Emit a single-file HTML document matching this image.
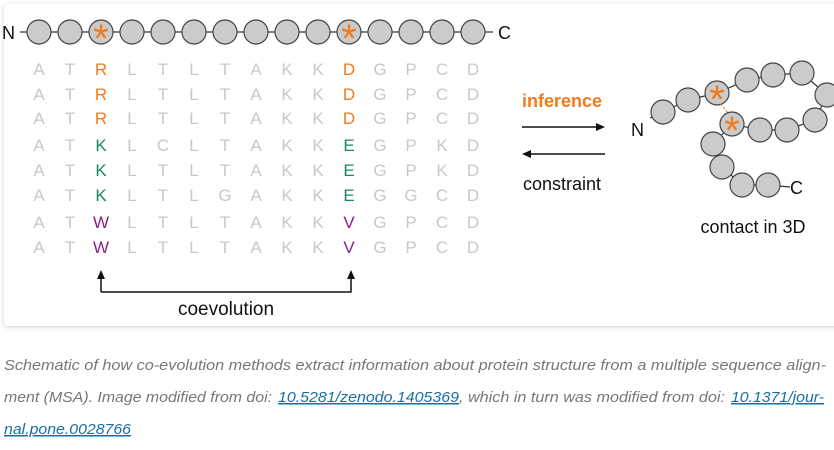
<!DOCTYPE html>
<html><head><meta charset="utf-8"><style>
html,body{margin:0;padding:0;background:#fff;width:834px;height:450px;overflow:hidden}
svg{display:block}
</style></head><body>
<svg width="834" height="450" viewBox="0 0 834 450" xmlns="http://www.w3.org/2000/svg" font-family="Liberation Sans, DejaVu Sans, sans-serif">
<defs><filter id="sh" x="-5%" y="-5%" width="110%" height="120%"><feDropShadow dx="0" dy="1" stdDeviation="2" flood-color="#000" flood-opacity="0.18"/></filter></defs>
<rect x="4" y="4" width="840" height="322" rx="3" fill="#fff" filter="url(#sh)"/>
<!-- top chain -->
<line x1="20" y1="32" x2="493" y2="32" stroke="#333" stroke-width="1.3"/>
<text x="2" y="39" font-size="18" fill="#111">N</text>
<text x="498" y="39" font-size="18" fill="#111">C</text>
<g fill="#cbcbcb" stroke="#444" stroke-width="1.2">
<circle cx="39" cy="32" r="12"/><circle cx="70" cy="32" r="12"/><circle cx="101" cy="32" r="12"/><circle cx="132" cy="32" r="12"/><circle cx="163" cy="32" r="12"/><circle cx="194" cy="32" r="12"/><circle cx="225" cy="32" r="12"/><circle cx="256" cy="32" r="12"/><circle cx="287" cy="32" r="12"/><circle cx="318" cy="32" r="12"/><circle cx="349" cy="32" r="12"/><circle cx="380" cy="32" r="12"/><circle cx="411" cy="32" r="12"/><circle cx="442" cy="32" r="12"/><circle cx="473" cy="32" r="12"/>
</g>
<g fill="#f07b1b" font-size="40" text-anchor="middle"><text x="101" y="52">*</text><text x="349" y="52">*</text></g>
<!-- MSA -->
<g font-size="17" text-anchor="middle" fill="#c8c8c8">
<text y="75"><tspan x="39">A</tspan><tspan x="70">T</tspan><tspan x="132">L</tspan><tspan x="163">T</tspan><tspan x="194">L</tspan><tspan x="225">T</tspan><tspan x="256">A</tspan><tspan x="287">K</tspan><tspan x="318">K</tspan><tspan x="380">G</tspan><tspan x="411">P</tspan><tspan x="442">C</tspan><tspan x="473">D</tspan></text>
<text y="100"><tspan x="39">A</tspan><tspan x="70">T</tspan><tspan x="132">L</tspan><tspan x="163">T</tspan><tspan x="194">L</tspan><tspan x="225">T</tspan><tspan x="256">A</tspan><tspan x="287">K</tspan><tspan x="318">K</tspan><tspan x="380">G</tspan><tspan x="411">P</tspan><tspan x="442">C</tspan><tspan x="473">D</tspan></text>
<text y="124"><tspan x="39">A</tspan><tspan x="70">T</tspan><tspan x="132">L</tspan><tspan x="163">T</tspan><tspan x="194">L</tspan><tspan x="225">T</tspan><tspan x="256">A</tspan><tspan x="287">K</tspan><tspan x="318">K</tspan><tspan x="380">G</tspan><tspan x="411">P</tspan><tspan x="442">C</tspan><tspan x="473">D</tspan></text>
<text y="151"><tspan x="39">A</tspan><tspan x="70">T</tspan><tspan x="132">L</tspan><tspan x="163">C</tspan><tspan x="194">L</tspan><tspan x="225">T</tspan><tspan x="256">A</tspan><tspan x="287">K</tspan><tspan x="318">K</tspan><tspan x="380">G</tspan><tspan x="411">P</tspan><tspan x="442">K</tspan><tspan x="473">D</tspan></text>
<text y="176"><tspan x="39">A</tspan><tspan x="70">T</tspan><tspan x="132">L</tspan><tspan x="163">T</tspan><tspan x="194">L</tspan><tspan x="225">T</tspan><tspan x="256">A</tspan><tspan x="287">K</tspan><tspan x="318">K</tspan><tspan x="380">G</tspan><tspan x="411">P</tspan><tspan x="442">K</tspan><tspan x="473">D</tspan></text>
<text y="201"><tspan x="39">A</tspan><tspan x="70">T</tspan><tspan x="132">L</tspan><tspan x="163">T</tspan><tspan x="194">L</tspan><tspan x="225">G</tspan><tspan x="256">A</tspan><tspan x="287">K</tspan><tspan x="318">K</tspan><tspan x="380">G</tspan><tspan x="411">G</tspan><tspan x="442">C</tspan><tspan x="473">D</tspan></text>
<text y="228"><tspan x="39">A</tspan><tspan x="70">T</tspan><tspan x="132">L</tspan><tspan x="163">T</tspan><tspan x="194">L</tspan><tspan x="225">T</tspan><tspan x="256">A</tspan><tspan x="287">K</tspan><tspan x="318">K</tspan><tspan x="380">G</tspan><tspan x="411">P</tspan><tspan x="442">C</tspan><tspan x="473">D</tspan></text>
<text y="253"><tspan x="39">A</tspan><tspan x="70">T</tspan><tspan x="132">L</tspan><tspan x="163">T</tspan><tspan x="194">L</tspan><tspan x="225">T</tspan><tspan x="256">A</tspan><tspan x="287">K</tspan><tspan x="318">K</tspan><tspan x="380">G</tspan><tspan x="411">P</tspan><tspan x="442">C</tspan><tspan x="473">D</tspan></text>
</g>
<g font-size="17" text-anchor="middle">
<g fill="#f07b1b"><text x="101" y="75">R</text><text x="349" y="75">D</text><text x="101" y="100">R</text><text x="349" y="100">D</text><text x="101" y="124">R</text><text x="349" y="124">D</text></g>
<g fill="#1a8a5a"><text x="101" y="151">K</text><text x="349" y="151">E</text><text x="101" y="176">K</text><text x="349" y="176">E</text><text x="101" y="201">K</text><text x="349" y="201">E</text></g>
<g fill="#8b1f8b"><text x="101" y="228">W</text><text x="349" y="228">V</text><text x="101" y="253">W</text><text x="349" y="253">V</text></g>
</g>
<!-- coevolution bracket -->
<path d="M101,292 V274 M101,292 H351 V274" fill="none" stroke="#111" stroke-width="1.5"/>
<path d="M97,279 L101,270 L105,279 z M347,279 L351,270 L355,279 z" fill="#111"/>
<text x="226" y="315" font-size="19" text-anchor="middle" fill="#111">coevolution</text>
<!-- middle -->
<text x="562" y="107" font-size="18" font-weight="bold" text-anchor="middle" fill="#f07b1b">inference</text>
<line x1="522" y1="127" x2="598" y2="127" stroke="#111" stroke-width="1.5"/>
<path d="M605,127 L596,123 L596,131 z" fill="#111"/>
<line x1="530" y1="154" x2="605" y2="154" stroke="#111" stroke-width="1.5"/>
<path d="M522,154 L531,150 L531,158 z" fill="#111"/>
<text x="562" y="190" font-size="18" text-anchor="middle" fill="#111">constraint</text>
<!-- 3D chain -->
<polyline points="650,118 663,112 688,100 717,93 747,80 773,75 802,73 827,95 815,120 787,130 760,130 732,124 713,144 722,167 742,185 768,185 790,187" fill="none" stroke="#333" stroke-width="1.2"/>
<g fill="#cbcbcb" stroke="#444" stroke-width="1.2">
<circle cx="663" cy="112" r="12"/><circle cx="688" cy="100" r="12"/><circle cx="717" cy="93" r="12"/><circle cx="747" cy="80" r="12"/><circle cx="773" cy="75" r="12"/><circle cx="802" cy="73" r="12"/><circle cx="827" cy="95" r="12"/><circle cx="815" cy="120" r="12"/><circle cx="787" cy="130" r="12"/><circle cx="760" cy="130" r="12"/><circle cx="732" cy="124" r="12"/><circle cx="713" cy="144" r="12"/><circle cx="722" cy="167" r="12"/><circle cx="742" cy="185" r="12"/><circle cx="768" cy="185" r="12"/>
</g>
<line x1="721" y1="104" x2="728" y2="113" stroke="#f07b1b" stroke-width="1.2" stroke-dasharray="2,2"/>
<g fill="#f07b1b" font-size="40" text-anchor="middle"><text x="717" y="113">*</text><text x="732" y="144">*</text></g>
<text x="631" y="136" font-size="18" fill="#111">N</text>
<text x="790" y="194" font-size="18" fill="#111">C</text>
<text x="753" y="233" font-size="18" text-anchor="middle" fill="#111">contact in 3D</text>
<!-- caption -->
<g font-size="15" font-style="italic" fill="#777">
<text x="4" y="370" textLength="822" lengthAdjust="spacingAndGlyphs">Schematic of how co-evolution methods extract information about protein structure from a multiple sequence align-</text>
<text x="4" y="402" textLength="268" lengthAdjust="spacingAndGlyphs">ment (MSA). Image modified from doi:</text>
<text x="278" y="402" textLength="181" lengthAdjust="spacingAndGlyphs" fill="#1a6fa0" text-decoration="underline">10.5281/zenodo.1405369</text>
<text x="459" y="402" textLength="266" lengthAdjust="spacingAndGlyphs">, which in turn was modified from doi:</text>
<text x="731" y="402" textLength="93" lengthAdjust="spacingAndGlyphs" fill="#1a6fa0" text-decoration="underline">10.1371/jour-</text>
<text x="4" y="434" textLength="127" lengthAdjust="spacingAndGlyphs" fill="#1a6fa0" text-decoration="underline">nal.pone.0028766</text>
</g>
</svg>
</body></html>
